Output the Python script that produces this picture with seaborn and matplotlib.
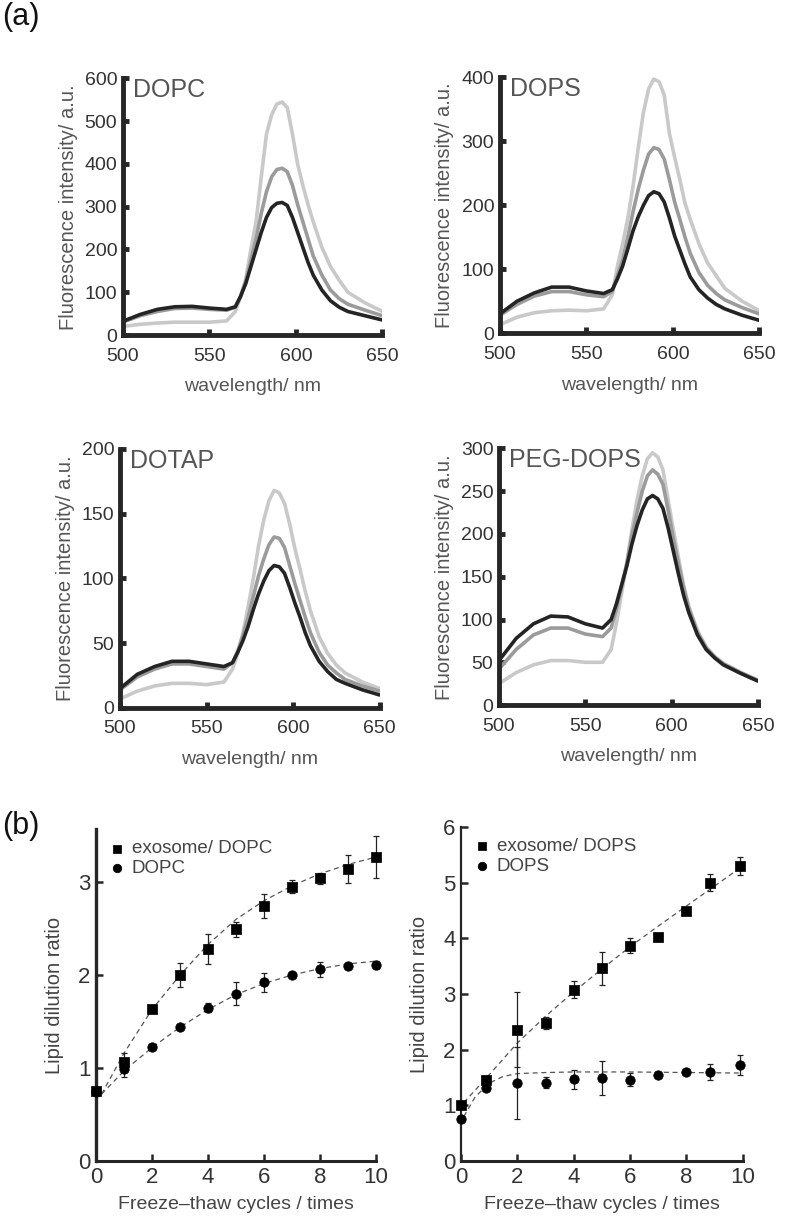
import matplotlib
matplotlib.use("Agg")
import matplotlib.pyplot as plt
import seaborn as sns
import pandas as pd

sns.set_style("ticks")
plt.rcParams['font.family'] = ['Liberation Sans', 'DejaVu Sans']

# wavelength grid (nm), denser around the emission peak
wl = [500, 510, 520, 530, 540, 550, 560, 565, 568, 571, 574, 577, 580, 583,
      586, 589, 592, 595, 598, 601, 604, 607, 610, 615, 620, 625, 630, 640, 650]

# fluorescence intensities (a.u.) - light / mid / dark curves per lipid
dopc_light = [20, 25, 28, 30, 30, 30, 33, 55, 90, 130, 200, 265, 370, 470,
              515, 540, 545, 532, 470, 400, 350, 305, 265, 205, 160, 128, 100, 75, 55]
dopc_mid = [30, 45, 55, 62, 63, 60, 58, 65, 90, 125, 175, 225, 285, 335,
            370, 387, 390, 382, 350, 305, 265, 225, 185, 140, 105, 85, 72, 58, 45]
dopc_dark = [32, 48, 60, 66, 67, 63, 60, 66, 90, 120, 160, 200, 240, 275,
             298, 308, 310, 303, 275, 240, 205, 170, 140, 105, 80, 65, 55, 45, 35]

dops_light = [13, 25, 32, 35, 36, 35, 38, 60, 105, 140, 180, 230, 290, 345,
              382, 397, 393, 372, 312, 275, 240, 203, 178, 140, 110, 90, 70, 50, 35]
dops_mid = [28, 45, 58, 65, 65, 60, 57, 65, 90, 115, 150, 190, 225, 255,
            280, 290, 287, 272, 240, 205, 178, 150, 125, 95, 75, 62, 52, 40, 30]
dops_dark = [30, 50, 63, 72, 72, 66, 62, 68, 85, 105, 132, 160, 182, 200,
             215, 221, 218, 205, 180, 152, 130, 108, 88, 68, 55, 45, 38, 28, 20]

dotap_light = [7, 13, 17, 19, 19, 18, 20, 30, 42, 58, 78, 100, 125, 145,
               160, 168, 166, 158, 142, 123, 107, 90, 75, 55, 42, 33, 27, 20, 15]
dotap_mid = [14, 24, 30, 34, 34, 32, 30, 35, 44, 56, 70, 86, 102, 115,
             126, 132, 131, 124, 110, 96, 83, 70, 58, 43, 33, 27, 22, 17, 13]
dotap_dark = [15, 26, 32, 36, 36, 34, 32, 35, 43, 52, 63, 76, 88, 98,
              106, 110, 109, 104, 93, 81, 70, 58, 48, 36, 28, 22, 19, 14, 10]

peg_light = [25, 38, 47, 52, 52, 50, 50, 65, 95, 130, 165, 205, 240, 268,
             288, 295, 290, 275, 240, 205, 172, 140, 115, 87, 68, 57, 49, 38, 29]
peg_mid = [42, 65, 82, 90, 90, 83, 80, 90, 112, 138, 165, 198, 225, 250,
           268, 275, 270, 258, 228, 195, 165, 137, 113, 85, 67, 56, 48, 38, 29]
peg_dark = [52, 78, 95, 104, 103, 95, 90, 100, 118, 140, 162, 188, 210, 228,
            241, 245, 241, 230, 207, 180, 153, 128, 108, 82, 65, 55, 47, 37, 28]

# freeze-thaw data
cycles_a = [0, 1, 2, 3, 4, 5, 6, 7, 8, 9, 10]
exo_dopc = [0.75, 1.07, 1.63, 2.0, 2.28, 2.49, 2.74, 2.95, 3.04, 3.14, 3.27]
exo_dopc_err = [0.04, 0.09, 0.02, 0.13, 0.16, 0.08, 0.13, 0.07, 0.06, 0.15, 0.23]
dopc = [0.74, 0.99, 1.23, 1.44, 1.65, 1.80, 1.92, 2.0, 2.06, 2.10, 2.11]
dopc_err = [0.03, 0.09, 0.03, 0.02, 0.05, 0.12, 0.10, 0.02, 0.08, 0.03, 0.04]
fit_a_x = [0.2, 1, 2, 3, 4, 5, 6, 7, 8, 9, 10]
fit_exo_dopc = [0.72, 1.16, 1.63, 2.0, 2.33, 2.6, 2.8, 2.96, 3.09, 3.19, 3.27]
fit_dopc = [0.72, 0.97, 1.22, 1.44, 1.63, 1.79, 1.91, 2.0, 2.07, 2.12, 2.15]

cycles_b = [0, 0.9, 2, 3, 4, 5, 6, 7, 8, 8.85, 9.9]
exo_dops = [1.0, 1.45, 2.36, 2.48, 3.08, 3.46, 3.87, 4.03, 4.5, 5.0, 5.3]
exo_dops_err = [0.03, 0.07, 0.67, 0.1, 0.16, 0.3, 0.13, 0.02, 0.03, 0.15, 0.17]
dops = [0.75, 1.32, 1.40, 1.41, 1.47, 1.49, 1.46, 1.55, 1.60, 1.60, 1.72]
dops_err = [0.03, 0.05, 0.65, 0.1, 0.17, 0.3, 0.12, 0.03, 0.02, 0.15, 0.18]
fit_exo_dops_x = [0.1, 1, 2, 3, 4, 5, 6, 7, 8, 9, 10, 10.25]
fit_exo_dops = [1.05, 1.55, 2.12, 2.6, 3.04, 3.45, 3.85, 4.22, 4.58, 4.94, 5.3, 5.5]
fit_dops_x = [0.1, 0.5, 1, 1.5, 2, 3, 4, 6, 8, 10]
fit_dops = [0.8, 1.15, 1.4, 1.52, 1.57, 1.59, 1.6, 1.6, 1.59, 1.58]

shade_palette = {'light': '#c9c9c9', 'mid': '#9b9b9b', 'dark': '#242424'}
TXT = '#555555'
TICK = '#333333'

fig = plt.figure(figsize=(7.87, 12.16), dpi=100)

spectra = [
    ('DOPC', dopc_light, dopc_mid, dopc_dark, 600, 100, [0.156, 0.7245, 0.330, 0.211]),
    ('DOPS', dops_light, dops_mid, dops_dark, 400, 100, [0.635, 0.726, 0.330, 0.2105]),
    ('DOTAP', dotap_light, dotap_mid, dotap_dark, 200, 50, [0.1525, 0.4178, 0.330, 0.213]),
    ('PEG-DOPS', peg_light, peg_mid, peg_dark, 300, 50, [0.634, 0.4202, 0.329, 0.211]),
]

for name, lt, md, dk, ymax, ystep, rect in spectra:
    ax = fig.add_axes(rect)
    df = pd.DataFrame({
        'wavelength': wl * 3,
        'intensity': lt + md + dk,
        'shade': ['light'] * len(wl) + ['mid'] * len(wl) + ['dark'] * len(wl),
    })
    sns.lineplot(data=df, x='wavelength', y='intensity', hue='shade',
                 palette=shade_palette, linewidth=2.6, legend=False, ax=ax)
    ax.set_xlim(500, 650)
    ax.set_ylim(0, ymax)
    ax.set_xticks([500, 550, 600, 650])
    ax.set_yticks(list(range(0, ymax + 1, ystep)))
    sns.despine(ax=ax)
    for s in ['left', 'bottom']:
        ax.spines[s].set_linewidth(3.5)
    ax.tick_params(direction='in', length=4, width=3.5, labelsize=14,
                   labelcolor=TICK)
    ax.tick_params(axis='x', pad=9)
    ax.tick_params(axis='y', pad=4)
    ax.set_xlabel('wavelength/ nm', fontsize=14, color=TXT, labelpad=10)
    ax.set_ylabel('Fluorescence intensity/ a.u.', fontsize=14.5, color=TXT, labelpad=5)
    ax.text(0.04, 1.0, name, transform=ax.transAxes, fontsize=18, color=TXT,
            ha='left', va='top')

dil = [
    (cycles_a, exo_dopc, exo_dopc_err, dopc, dopc_err, fit_a_x, fit_exo_dopc,
     fit_a_x, fit_dopc, 'exosome/ DOPC', 'DOPC', 3.57, [0, 1, 2, 3],
     [0.122, 0.0452, 0.356, 0.273], 2.4),
    (cycles_b, exo_dops, exo_dops_err, dops, dops_err, fit_exo_dops_x, fit_exo_dops,
     fit_dops_x, fit_dops, 'exosome/ DOPS', 'DOPS', 6, [0, 1, 2, 3, 4, 5, 6],
     [0.5858, 0.0452, 0.358, 0.2747], 1.6),
]

for (cx, sq, sq_err, ci, ci_err, fx1, fy1, fx2, fy2, lab1, lab2, ymax, yt,
     rect, lw) in dil:
    ax = fig.add_axes(rect)
    sns.lineplot(x=fx1, y=fy1, color='#555555', linestyle=(0, (4, 3)),
                 linewidth=0.9, ax=ax, sort=False)
    sns.lineplot(x=fx2, y=fy2, color='#555555', linestyle=(0, (4, 3)),
                 linewidth=0.9, ax=ax, sort=False)
    ax.errorbar(cx, sq, yerr=sq_err, fmt='none', ecolor='#222222',
                elinewidth=0.9, capsize=2.5, capthick=0.9, clip_on=False)
    ax.errorbar(cx, ci, yerr=ci_err, fmt='none', ecolor='#222222',
                elinewidth=0.9, capsize=2.5, capthick=0.9, clip_on=False)
    sns.scatterplot(x=cx, y=sq, marker='s', s=42, color='black',
                    edgecolor='black', label=lab1, ax=ax, clip_on=False, zorder=3)
    sns.scatterplot(x=cx, y=ci, marker='o', s=46, color='black',
                    edgecolor='black', label=lab2, ax=ax, clip_on=False, zorder=3)
    ax.set_xlim(0, 10)
    ax.set_ylim(0, ymax)
    ax.set_xticks([0, 2, 4, 6, 8, 10])
    ax.set_yticks(yt)
    sns.despine(ax=ax)
    ax.spines['left'].set_linewidth(lw)
    ax.spines['bottom'].set_linewidth(2.2)
    ax.tick_params(direction='in', length=5, width=1.8, labelsize=16,
                   labelcolor='#333333', pad=4)
    ax.set_xlabel('Freeze\u2013thaw cycles / times', fontsize=14, color='#444444',
                  labelpad=6)
    ax.set_ylabel('Lipid dilution ratio', fontsize=14.5, color='#444444', labelpad=10)
    leg = ax.legend(loc='upper left', frameon=False, fontsize=13.5,
                    handletextpad=0.3, borderaxespad=0.2, labelspacing=0.15,
                    handlelength=1.0, markerscale=0.9,
                    bbox_to_anchor=(0.0, 1.0))
    for t in leg.get_texts():
        t.set_color('#444444')

fig.text(0.003, 0.998, '(a)', fontsize=22, ha='left', va='top', color='#111111')
fig.text(0.003, 0.333, '(b)', fontsize=22, ha='left', va='top', color='#111111')

fig.savefig('out.png', dpi=100)
